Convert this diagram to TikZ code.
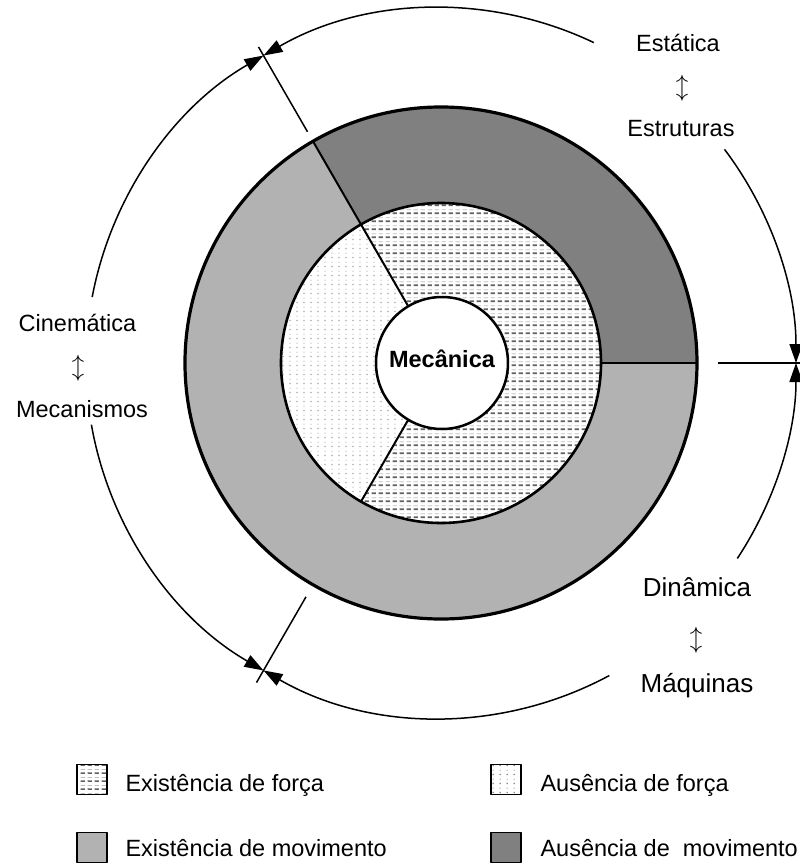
\documentclass[tikz,border=0pt]{standalone}
\usepackage{fontspec}
\setmainfont{Liberation Sans}
\usetikzlibrary{arrows.meta,patterns}
% hatch for "Existencia de forca": dark and light dashes
\pgfdeclarepatterninherentlycolored{forca}{\pgfpointorigin}{\pgfpoint{7.3pt}{8pt}}{\pgfpoint{7.3pt}{8pt}}{%
  \pgfsetlinewidth{1.8pt}\pgfsetcolor{black!62}%
  \pgfpathmoveto{\pgfpoint{0.6pt}{2pt}}\pgfpathlineto{\pgfpoint{5.2pt}{2pt}}\pgfusepath{stroke}%
  \pgfsetlinewidth{0.9pt}\pgfsetcolor{black!25}%
  \pgfpathmoveto{\pgfpoint{0.6pt}{6pt}}\pgfpathlineto{\pgfpoint{5.2pt}{6pt}}\pgfusepath{stroke}}
% dots for "Ausencia de forca"
\pgfdeclarepatterninherentlycolored{semforca}{\pgfpointorigin}{\pgfpoint{7pt}{8.6pt}}{\pgfpoint{7pt}{8.6pt}}{%
  \pgfsetcolor{black!70}\pgfpathrectangle{\pgfpoint{3pt}{1pt}}{\pgfpoint{0.9pt}{1.3pt}}\pgfusepath{fill}%
  \pgfsetcolor{black!30}\pgfpathrectangle{\pgfpoint{3pt}{5.3pt}}{\pgfpoint{0.9pt}{1.3pt}}\pgfusepath{fill}}
\tikzset{lab/.style={font=\fontsize{23.5}{28}\selectfont}}
\tikzset{labbig/.style={font=\fontsize{26}{31}\selectfont}}
\tikzset{arr/.style={line width=1.5pt,-{Triangle[length=19pt,width=13pt]}}}
\tikzset{tick/.style={line width=1.5pt}}
\tikzset{key/.style={draw,line width=1.6pt,minimum width=30pt,minimum height=30pt,inner sep=0pt}}
\definecolor{movim}{gray}{0.70}
\definecolor{semmovim}{gray}{0.50}

\begin{document}
\begin{tikzpicture}[x=1pt,y=1pt,line join=round]
  \useasboundingbox (-441,-500) rectangle (359,363);
  % rings
  \fill[movim] (0,0) circle[radius=256];
  \fill[semmovim] (0,0) -- (0:256) arc[start angle=0,end angle=120,radius=256] -- cycle;
  \fill[white] (0,0) circle[radius=160];
  \fill[pattern=forca] (0,0) -- (-120:160) arc[start angle=-120,end angle=120,radius=160] -- cycle;
  \fill[pattern=semforca] (0,0) -- (120:160) arc[start angle=120,end angle=240,radius=160] -- cycle;
  \draw[line width=2pt] (120:66) -- (120:256);
  \draw[line width=2pt] (240:66) -- (240:160);
  \draw[line width=2pt] (0:160) -- (0:256);
  \draw[line width=3.2pt] (0,0) circle[radius=256];
  \draw[line width=2.6pt] (0,0) circle[radius=160];
  \node[circle,draw,line width=2.5pt,fill=white,minimum size=132pt,inner sep=0pt,
        text height=17pt,text depth=7.6pt,font=\fontsize{23.5}{28}\selectfont\bfseries] (mec) at (1,0) {Mecânica};
  % limits
  \draw[tick] (120:267) -- (120:365);
  \draw[tick] (240:270) -- (240:369);
  \draw[tick] (0:277) -- (0:362);
  \draw[arr] (64.5:355) arc[start angle=64.5,end angle=120,radius=355];
  \draw[arr] (37:355) arc[start angle=37,end angle=0,radius=355];
  \draw[arr] (169.3:355) arc[start angle=169.3,end angle=120,radius=355];
  \draw[arr] (190:355) arc[start angle=190,end angle=240,radius=355];
  \draw[arr] (298.3:355) arc[start angle=298.3,end angle=240,radius=355];
  \draw[arr] (326.6:355) arc[start angle=326.6,end angle=360,radius=355];
  % labels
  \node[lab,anchor=base] (est) at (237,311.3) {Estática};
  \node[lab] (est2) at (241,275) {$\updownarrow$};
  \node[lab,anchor=base] (estr) at (240,226.3) {Estruturas};
  \node[lab,anchor=base] (cin) at (-363.5,31.3) {Cinemática};
  \node[lab] (cin2) at (-363,-5) {$\updownarrow$};
  \node[lab,anchor=base] (mecan) at (-359,-54.3) {Mecanismos};
  \node[labbig,anchor=base] (din) at (256,-233.7) {Dinâmica};
  \node[labbig] (din2) at (255,-277) {$\updownarrow$};
  \node[labbig,anchor=base] (maq) at (256,-329.7) {Máquinas};
  % legend
  \node[key,pattern=forca] (kf) at (-349,-416.5) {};
  \node[lab,anchor=base west] (tf) at (-319,-428.7) {Existência de força};
  \node[key,fill=movim] (km) at (-349,-484.5) {};
  \node[lab,anchor=base west] (tm) at (-319,-493.7) {Existência de movimento};
  \node[key,pattern=semforca] (ksf) at (65.2,-416.5) {};
  \node[lab,anchor=base west] (tsf) at (96,-428.7) {Ausência de força};
  \node[key,fill=semmovim] (ksm) at (65.2,-484.5) {};
  \node[lab,anchor=base west] (tsm) at (96,-493.7) {Ausência de~ movimento};
\end{tikzpicture}
\end{document}
